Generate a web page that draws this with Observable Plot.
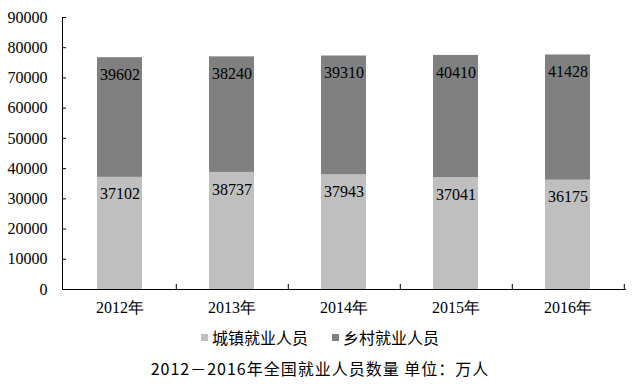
<!DOCTYPE html>
<html>
<head>
<meta charset="utf-8">
<script src="https://cdn.jsdelivr.net/npm/d3@7"></script>
<script src="https://cdn.jsdelivr.net/npm/@observablehq/plot@0.6"></script>
<style>
  body { margin: 0; background: #fff; }
  #wrap { position: relative; width: 636px; height: 384px; overflow: hidden; }
  #legend { position: absolute; left: 0; top: 324px; width: 640px; display: flex; justify-content: center; gap: 24px;
    font-family: "Noto Sans CJK SC", sans-serif; font-size: 16px; color: #000; line-height: 26px; }
  #legend .item { display: flex; align-items: center; }
  #legend .sw { width: 7px; height: 7px; margin-right: 4px; }
  #caption { position: absolute; left: 0; top: 355px; width: 640px; text-align: center;
    font-family: "Noto Sans CJK SC", sans-serif; font-size: 16px; letter-spacing: 1px; color: #000; line-height: 26px; }
</style>
</head>
<body>
<div id="wrap">
  <div id="chart"></div>
  <div id="legend"></div>
  <div id="caption"></div>
</div>
<script>
const years = ["2012年", "2013年", "2014年", "2015年", "2016年"];
const urban = [37102, 38737, 37943, 37041, 36175];
const rural = [39602, 38240, 39310, 40410, 41428];
const seriesNames = ["城镇就业人员", "乡村就业人员"];
const seriesColors = ["#bfbfbf", "#808080"];
const yTicks = [0, 10000, 20000, 30000, 40000, 50000, 60000, 70000, 80000, 90000];
const captionText = "2012－2016年全国就业人员数量 单位：万人";

const data = [];
years.forEach((y, i) => {
  data.push({year: y, series: seriesNames[0], value: urban[i]});
  data.push({year: y, series: seriesNames[1], value: rural[i]});
});

const W = 636, H = 322, mL = 62, mR = 11, mT = 17, mB = 33;
const step = (W - mL - mR) / years.length;

const chart = Plot.plot({
  width: W, height: H,
  marginLeft: mL, marginRight: mR, marginTop: mT, marginBottom: mB,
  style: {fontFamily: "'Liberation Serif', 'Times New Roman', serif", fontSize: "16px", color: "#000", background: "#fff"},
  x: {domain: years, paddingInner: 0.6, paddingOuter: 0.3, align: 0.5, label: null},
  y: {domain: [0, 90000], label: null},
  color: {domain: seriesNames, range: seriesColors},
  marks: [
    Plot.barY(data, Plot.stackY({x: "year", y: "value", fill: "series", order: seriesNames})),
    Plot.text(data, Plot.stackY2({x: "year", y: "value", z: "series", order: seriesNames, text: d => String(d.value), dy: 17, fill: "#000", fontSize: 16})),
    Plot.axisY({ticks: yTicks, tickSize: 0, tickPadding: 15, tickFormat: d => String(d), fontSize: 16, label: null}),
    Plot.axisY({ticks: yTicks, tickSize: -4, text: null, label: null}),
    Plot.axisX({tickSize: 0, tickPadding: 12, fontSize: 16, label: null}),
    Plot.axisX({tickSize: -5, text: null, dx: step / 2, label: null}),
    Plot.frame({anchor: "left"}),
    Plot.frame({anchor: "bottom"})
  ]
});
document.getElementById("chart").appendChild(chart);

const legend = document.getElementById("legend");
seriesNames.forEach((n, i) => {
  const it = document.createElement("div");
  it.className = "item";
  const sw = document.createElement("span");
  sw.className = "sw";
  sw.style.background = seriesColors[i];
  const t = document.createElement("span");
  t.textContent = n;
  it.appendChild(sw); it.appendChild(t);
  legend.appendChild(it);
});
document.getElementById("caption").textContent = captionText;
</script>
</body>
</html>
